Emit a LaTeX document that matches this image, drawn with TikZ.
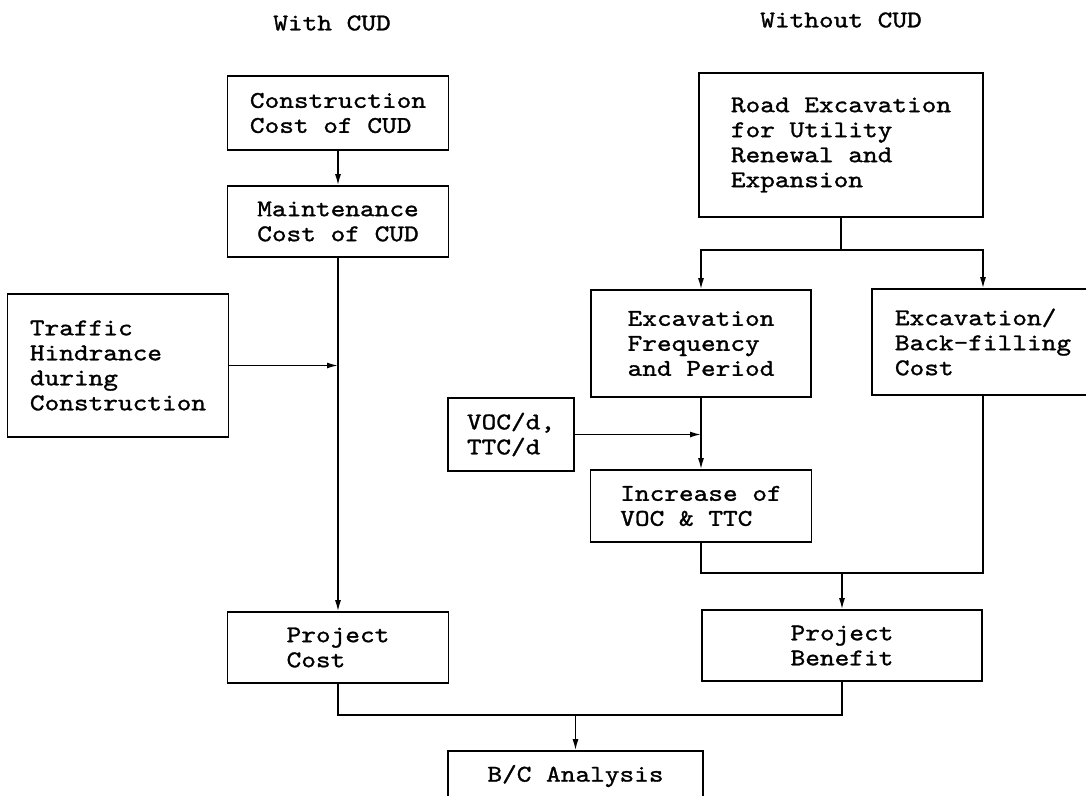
\documentclass[tikz,border=0pt]{standalone}
\usepackage{fontspec}
\setmonofont{lmmono10-regular.otf}[FakeStretch=1.165,FakeBold=1.2]
\usetikzlibrary{arrows.meta}

\begin{document}
\begin{tikzpicture}[x=1pt,y=-1pt,line width=1.5pt,
    >={Latex[length=11pt,width=6pt]},
    every node/.style={font=\ttfamily\fontsize{24}{25}\selectfont},
    blk/.style={draw, line width=1.6pt, align=left, inner sep=0pt}]
\clip (0,0) rectangle (1086,795);
% column headings
\node (withcud) at (332,23) {With CUD};
\node (withoutcud) at (841,20) {Without CUD};
% with CUD
\node[blk, minimum width=221pt, minimum height=74pt] (constr) at (338,113) {Construction\\Cost of CUD};
\node[blk, minimum width=221pt, minimum height=71pt] (maint) at (338,221.5) {Maintenance\\Cost of CUD};
\node[blk, minimum width=221pt, minimum height=143pt] (traffic) at (118,365.5) {Traffic\\Hindrance\\during\\Construction};
\node[blk, minimum width=221pt, minimum height=71pt] (pcost) at (338,647.5) {Project\\Cost};
% without CUD
\node[blk, minimum width=284pt, minimum height=144pt] (road) at (841,145) {Road Excavation\\for Utility\\Renewal and\\Expansion};
\node[blk, minimum width=220pt, minimum height=107pt] (freq) at (701,343.5) {Excavation\\Frequency\\and Period};
\node[blk, minimum width=222pt, minimum height=106pt] (backfill) at (983,342) {Excavation/\\Back-filling\\Cost};
\node[blk, minimum width=126pt, minimum height=73pt] (voc) at (511,434.5) {VOC/d,\\TTC/d};
\node[blk, minimum width=221pt, minimum height=72pt] (incr) at (701,506) {Increase of\\VOC \& TTC};
\node[blk, minimum width=280pt, minimum height=71pt] (pbenefit) at (842,645.5) {Project\\Benefit};
\node[blk, minimum width=255pt, minimum height=50pt] (bc) at (575.5,776) {B/C Analysis};
% junctions
\coordinate (split) at (841,250);
\coordinate (merge) at (842,573);
\coordinate (join) at (575.5,715);
% connectors
\path[draw,->] (constr) -- (maint);
\path[draw,->] (maint) -- (pcost);
\path[draw,->] (traffic.east) -- (maint.south |- traffic.east);
\path[draw] (road) -- (split);
\path[draw,->] (split) -| (freq);
\path[draw,->] (split) -| (backfill);
\path[draw,->] (freq) -- (incr);
\path[draw,->] (voc.east) -- (freq.south |- voc.east);
\path[draw] (incr.south) |- (merge);
\path[draw] (backfill.south) |- (merge);
\path[draw,->] (merge) -- (pbenefit);
\path[draw] (pcost.south) |- (join);
\path[draw] (pbenefit.south) |- (join);
\path[draw,->] (join) -- (bc);
\end{tikzpicture}
\end{document}
